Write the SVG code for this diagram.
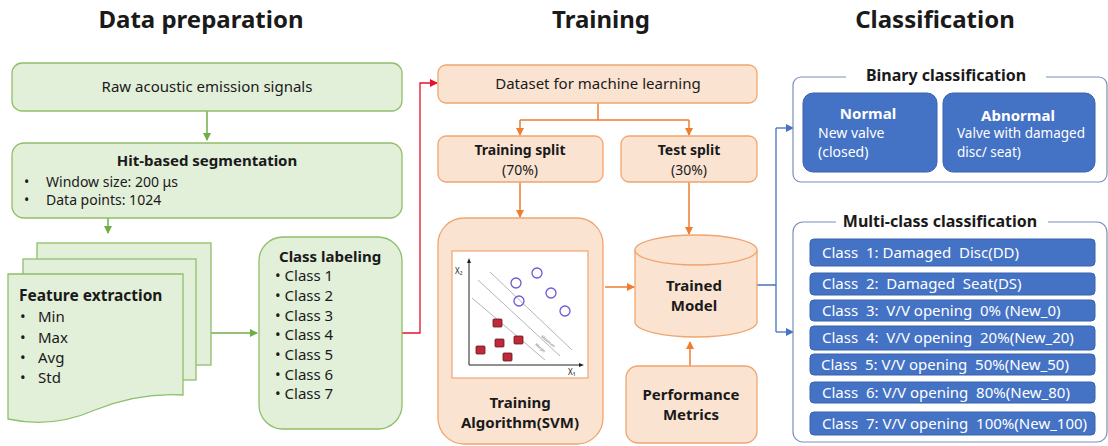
<svg xmlns="http://www.w3.org/2000/svg" width="1108" height="446" viewBox="0 0 1108 446">
<style>
text{font-family:"Noto Sans","Open Sans","Liberation Sans",sans-serif;fill:#1a1a1a}
.h{font-size:24px;font-weight:bold;text-anchor:middle}
.g{fill:#e2efd9;stroke:#8fbf6a;stroke-width:1.3}
.o{fill:#fbe3d2;stroke:#f0a56e;stroke-width:1.3}
.b{fill:#4472c4;stroke:#3a63ad;stroke-width:1}
.t{font-size:14px}
.tb{font-size:15px;font-weight:bold}
.c{text-anchor:middle}
.cl{font-size:14px;fill:#fff}
.cb{font-size:15px;fill:#fff;white-space:pre}
.ga{stroke:#70ad47;stroke-width:1.5;fill:none}
.oa{stroke:#ed7d31;stroke-width:1.5;fill:none}
.ba{stroke:#4472c4;stroke-width:1.3;fill:none}
.grp{fill:#fff;stroke:#7b8fb8;stroke-width:1.2}
</style>
<defs>
<marker id="mg" markerWidth="8" markerHeight="8" refX="7" refY="4" orient="auto" markerUnits="userSpaceOnUse"><path d="M0,0 L8,4 L0,8 Z" fill="#70ad47"/></marker>
<marker id="mo" markerWidth="8" markerHeight="8" refX="7" refY="4" orient="auto" markerUnits="userSpaceOnUse"><path d="M0,0 L8,4 L0,8 Z" fill="#ed7d31"/></marker>
<marker id="mr" markerWidth="8" markerHeight="8" refX="7" refY="4" orient="auto" markerUnits="userSpaceOnUse"><path d="M0,0 L8,4 L0,8 Z" fill="#e8102a"/></marker>
<marker id="mb" markerWidth="8" markerHeight="8" refX="7" refY="4" orient="auto" markerUnits="userSpaceOnUse"><path d="M0,0 L8,4 L0,8 Z" fill="#4472c4"/></marker>
</defs>
<rect width="1108" height="446" fill="#fff"/>

<g id="titles">
<text class="h" x="201" y="28">Data preparation</text>
<text class="h" x="601" y="28">Training</text>
<text class="h" x="935" y="28">Classification</text>
</g>

<g id="connectors">
<path class="ga" d="M207,111 V140" marker-end="url(#mg)"/>
<path class="ga" d="M108,218 V233" marker-end="url(#mg)"/>
<path class="ga" d="M211,333 H257" marker-end="url(#mg)"/>
<path d="M402,333 H420 V83 H437" stroke="#e8102a" stroke-width="1.3" fill="none" marker-end="url(#mr)"/>
<path class="oa" d="M598,103 V120 M520,120 H689"/>
<path class="oa" d="M520,120 V135" marker-end="url(#mo)"/>
<path class="oa" d="M689,120 V135" marker-end="url(#mo)"/>
<path class="oa" d="M520,182 V217" marker-end="url(#mo)"/>
<path class="oa" d="M689,182 V234" marker-end="url(#mo)"/>
<path class="oa" d="M605,287 H634" marker-end="url(#mo)"/>
<path class="oa" d="M690,366 V342" marker-end="url(#mo)"/>
<path class="ba" d="M757,285 H776 M776,128 V332"/>
<path class="ba" d="M776,128 H793" marker-end="url(#mb)"/>
<path class="ba" d="M776,332 H793" marker-end="url(#mb)"/>
</g>

<g id="raw">
<rect class="g" x="12" y="63" width="390" height="48" rx="10"/>
<text class="c" x="207" y="92" style="font-size:15px">Raw acoustic emission signals</text>
</g>

<g id="hit">
<rect class="g" x="12" y="143" width="390" height="75" rx="12"/>
<text class="tb c" x="207" y="166">Hit-based segmentation</text>
<text class="t" x="24" y="187">•</text><text class="t" x="46" y="187">Window size: 200 μs</text>
<text class="t" x="24" y="205">•</text><text class="t" x="46" y="205">Data points: 1024</text>
</g>

<g id="feature">
<rect class="g" x="37" y="243" width="174" height="122"/>
<rect class="g" x="23" y="259" width="173" height="121"/>
<path class="g" d="M8,274 H183 V395 C150,393 120,400 95,410 C70,421 40,426 8,419 Z"/>
<text class="tb" x="19" y="301" style="font-size:15.5px">Feature extraction</text>
<text x="20" y="322" style="font-size:15px">•</text><text x="38" y="322" style="font-size:15px">Min</text>
<text x="20" y="343" style="font-size:15px">•</text><text x="38" y="343" style="font-size:15px">Max</text>
<text x="20" y="363" style="font-size:15px">•</text><text x="38" y="363" style="font-size:15px">Avg</text>
<text x="20" y="383" style="font-size:15px">•</text><text x="38" y="383" style="font-size:15px">Std</text>
</g>

<g id="classlabel">
<rect class="g" x="259" y="237" width="143" height="192" rx="24"/>
<text class="tb" x="279" y="262">Class labeling</text>
<g style="font-size:15px">
<text x="275" y="281">• Class 1</text>
<text x="275" y="301">• Class 2</text>
<text x="275" y="321">• Class 3</text>
<text x="275" y="340">• Class 4</text>
<text x="275" y="360">• Class 5</text>
<text x="275" y="380">• Class 6</text>
<text x="275" y="399">• Class 7</text>
</g>
</g>

<g id="dataset">
<rect class="o" x="438" y="65" width="319" height="38" rx="8"/>
<text class="c" x="598" y="89" style="font-size:15px">Dataset for machine learning</text>
</g>

<g id="trainsplit">
<rect class="o" x="438" y="136" width="165" height="46" rx="8"/>
<text class="tb c" x="520" y="155" style="font-size:14px">Training split</text>
<text class="t c" x="520" y="175">(70%)</text>
</g>

<g id="testsplit">
<rect class="o" x="621" y="136" width="136" height="46" rx="8"/>
<text class="tb c" x="689" y="155" style="font-size:14px">Test split</text>
<text class="t c" x="689" y="175">(30%)</text>
</g>

<g id="algorithm">
<rect class="o" x="438" y="218" width="165" height="226" rx="26"/>
<rect x="452" y="251" width="136" height="127" fill="#fff" stroke="#f0a56e" stroke-width="1.2"/>
<path d="M469,365 V260 M469,365 H582" stroke="#222" stroke-width="1" fill="none"/>
<path d="M467,263 L469,258 L471,263 Z M579,363 L584,365 L579,367 Z" fill="#222"/>
<text x="455" y="274" style="font-size:8px">X₂</text>
<text x="568" y="375" style="font-size:8px">X₁</text>
<path d="M490,272 L572,350 M478,280 L560,356 M472,298 L545,360" stroke="#b5b5b5" stroke-width="1" fill="none"/>
<text x="0" y="0" transform="translate(541,337) rotate(40)" style="font-size:3.5px;fill:#555">Maximum</text>
<text x="0" y="0" transform="translate(535,345) rotate(40)" style="font-size:3.5px;fill:#555">Margin</text>
<g fill="none" stroke="#6a5ad6" stroke-width="1.3">
<circle cx="516" cy="283" r="5"/><circle cx="537" cy="273" r="5"/><circle cx="551" cy="293" r="5"/><circle cx="519" cy="301" r="5"/><circle cx="565" cy="311" r="5"/>
</g>
<g fill="#c0293a" stroke="#5a1a1a" stroke-width="0.8">
<rect x="493" y="319" width="9" height="8" rx="1"/><rect x="495" y="339" width="9" height="8" rx="1"/><rect x="514" y="336" width="9" height="8" rx="1"/><rect x="476" y="346" width="9" height="8" rx="1"/><rect x="503" y="353" width="9" height="8" rx="1"/>
</g>
<text class="tb c" x="520" y="408">Training</text>
<text class="tb c" x="520" y="428">Algorithm(SVM)</text>
</g>

<g id="model">
<path class="o" d="M635,250 V322 A61,15 0 0 0 757,322 V250"/>
<ellipse class="o" cx="696" cy="250" rx="61" ry="15"/>
<text class="tb c" x="694" y="291">Trained</text>
<text class="tb c" x="694" y="311">Model</text>
</g>

<g id="metrics">
<rect class="o" x="626" y="366" width="131" height="77" rx="12"/>
<text class="tb c" x="691" y="400">Performance</text>
<text class="tb c" x="691" y="420">Metrics</text>
</g>

<g id="binary">
<rect class="grp" x="793" y="77" width="314" height="105" rx="8"/>
<rect x="846" y="68" width="200" height="16" fill="#fff"/>
<text class="tb c" x="946" y="81" style="font-size:16px">Binary classification</text>
<rect class="b" x="803" y="93" width="134" height="79" rx="10"/>
<text class="tb c" x="868" y="119" style="fill:#fff">Normal</text>
<text class="cl" x="818" y="138">New valve</text>
<text class="cl" x="818" y="157">(closed)</text>
<rect class="b" x="943" y="93" width="152" height="79" rx="10"/>
<text class="tb c" x="1018" y="121" style="fill:#fff">Abnormal</text>
<text class="cl" x="957" y="138" style="font-size:13.5px">Valve with damaged</text>
<text class="cl" x="957" y="157" style="font-size:13.5px">disc/ seat)</text>
</g>

<g id="multiclass">
<rect class="grp" x="793" y="222" width="314" height="220" rx="10"/>
<rect x="836" y="212" width="212" height="16" fill="#fff"/>
<text class="tb c" x="940" y="227" style="font-size:16px">Multi-class classification</text>
<rect class="b" x="810" y="239" width="285" height="27" rx="4"/>
<text class="cb" x="822" y="258">Class  1: Damaged  Disc(DD)</text>
<rect class="b" x="810" y="273" width="285" height="22" rx="4"/>
<text class="cb" x="822" y="289">Class  2:  Damaged  Seat(DS)</text>
<rect class="b" x="810" y="300" width="285" height="21" rx="4"/>
<text class="cb" x="822" y="316">Class  3:  V/V opening  0% (New_0)</text>
<rect class="b" x="810" y="326" width="285" height="24" rx="4"/>
<text class="cb" x="822" y="343">Class  4:  V/V opening  20%(New_20)</text>
<rect class="b" x="810" y="354" width="285" height="21" rx="4"/>
<text class="cb" x="821" y="370">Class  5: V/V opening  50%(New_50)</text>
<rect class="b" x="810" y="382" width="285" height="21" rx="4"/>
<text class="cb" x="822" y="398">Class  6: V/V opening  80%(New_80)</text>
<rect class="b" x="810" y="412" width="285" height="23" rx="4"/>
<text class="cb" x="822" y="429">Class  7: V/V opening  100%(New_100)</text>
</g>
</svg>
